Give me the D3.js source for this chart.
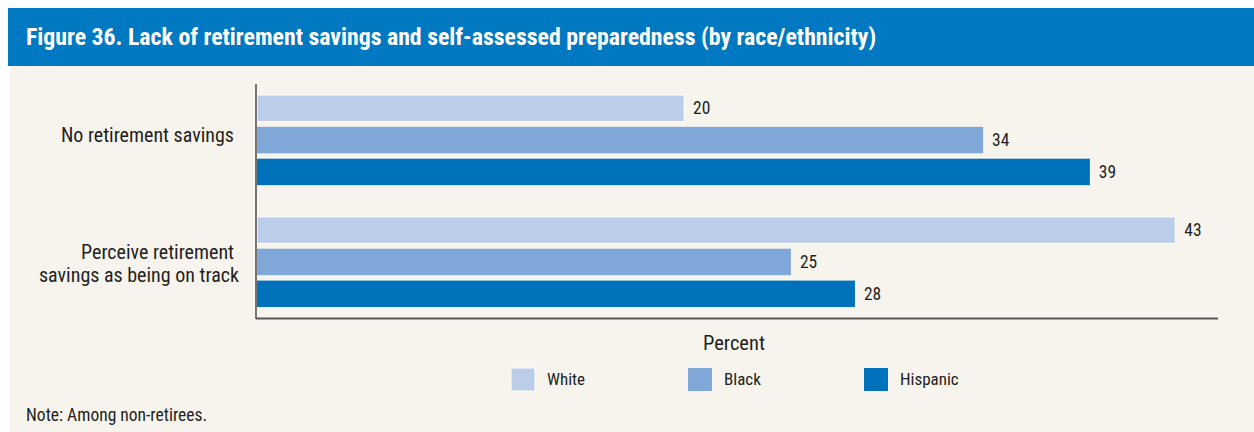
<!DOCTYPE html>
<html>
<head>
<meta charset="utf-8">
<script src="https://cdn.jsdelivr.net/npm/d3@7"></script>
<style>
  body { margin: 0; background: #fff; }
  text { font-family: "Roboto Condensed", sans-serif; }
</style>
</head>
<body>
<div id="chart"></div>
<script>
var categories = ["No retirement savings", "Perceive retirement savings as being on track"];
var categoryLines = [["No retirement savings"], ["Perceive retirement", "savings as being on track"]];
var series = ["White", "Black", "Hispanic"];
var values = {
    White:    [20, 43],
    Black:    [34, 25],
    Hispanic: [39, 28]
};
var colors = ["#bccde9", "#7fa7d8", "#0072bc"];

var width = 1254, height = 432;

var svg = d3.select("#chart").append("svg")
    .attr("width", width)
    .attr("height", height);

// panel + header
svg.append("rect").attr("x", 10).attr("y", 66).attr("width", width - 10).attr("height", height - 66)
    .attr("fill", "#f7f4ee");
svg.append("rect").attr("x", 8).attr("y", 8).attr("width", width - 8).attr("height", 58)
    .attr("fill", "#0079c2");
svg.append("text").attr("x", 26).attr("y", 45)
    .attr("fill", "#fff").attr("font-size", 23.8).attr("font-weight", "bold")
    .text("Figure 36. Lack of retirement savings and self-assessed preparedness (by race/ethnicity)");

var x = d3.scaleLinear().domain([0, 45]).range([257, 1218]);
var y0 = d3.scaleBand().domain(categories).range([84, 318]).paddingInner(0.26).paddingOuter(0.09);
var y1 = d3.scaleBand().domain(series).range([0, y0.bandwidth()]).paddingInner(0.17);
var color = d3.scaleOrdinal().domain(series).range(colors);

var g = svg.selectAll(".grp")
    .data(categories)
    .enter().append("g")
    .attr("class", "grp")
    .attr("transform", function(d) { return "translate(0," + y0(d) + ")"; });

g.selectAll("rect")
    .data(function(d, i) { return series.map(function(s) { return {s: s, v: values[s][i]}; }); })
    .enter().append("rect")
    .attr("x", x(0))
    .attr("y", function(d) { return y1(d.s); })
    .attr("width", function(d) { return x(d.v) - x(0); })
    .attr("height", y1.bandwidth())
    .attr("fill", function(d) { return color(d.s); })
    .attr("stroke", function(d) { return d.s == "White" ? "#fff" : "none"; })
    .attr("stroke-width", 1);

g.selectAll(".val")
    .data(function(d, i) { return series.map(function(s) { return {s: s, v: values[s][i]}; }); })
    .enter().append("text")
    .attr("class", "val")
    .attr("x", function(d) { return x(d.v) + 9; })
    .attr("y", function(d) { return y1(d.s) + y1.bandwidth() / 2; })
    .attr("dy", "0.35em")
    .attr("font-size", 17.5)
    .attr("fill", "#231f20")
    .text(function(d) { return d.v; });

// category labels (second line of the wrapped label sits a bit further right, as in the source)
g.each(function(d, i) {
    var lines = categoryLines[i];
    var cy = y0.bandwidth() / 2 - (lines.length == 1 ? 5 : -2);
    var t = d3.select(this).append("text")
        .attr("text-anchor", "end")
        .attr("font-size", 20)
        .attr("fill", "#231f20");
    lines.forEach(function(l, k) {
        t.append("tspan")
            .attr("x", k == 0 ? 234 : 239)
            .attr("y", cy + (k - (lines.length - 1) / 2) * 23)
            .attr("dy", "0.35em")
            .text(l);
    });
});

// axes
svg.append("line").attr("x1", x(0) - 1).attr("x2", x(0) - 1).attr("y1", 84).attr("y2", 319)
    .attr("stroke", "#231f20").attr("stroke-width", 1.2);
svg.append("line").attr("x1", x(0) - 1).attr("x2", x(45)).attr("y1", 318.5).attr("y2", 318.5)
    .attr("stroke", "#5a5655").attr("stroke-width", 2);

svg.append("text").attr("x", 734).attr("y", 350)
    .attr("text-anchor", "middle").attr("font-size", 20.5).attr("fill", "#231f20")
    .text("Percent");

// legend
var legendX = [511, 688, 864];
var leg = svg.selectAll(".leg")
    .data(series)
    .enter().append("g")
    .attr("class", "leg")
    .attr("transform", function(d, i) { return "translate(" + legendX[i] + ",368)"; });
leg.append("rect")
    .attr("width", 24).attr("height", 23)
    .attr("fill", function(d) { return color(d); })
    .attr("stroke", function(d) { return d == "White" ? "#fff" : "none"; });
leg.append("text")
    .attr("x", 36).attr("y", 11.5).attr("dy", "0.35em")
    .attr("font-size", 17).attr("fill", "#231f20")
    .text(function(d) { return d; });

svg.append("text").attr("x", 26).attr("y", 421)
    .attr("font-size", 17.5).attr("fill", "#231f20")
    .text("Note: Among non-retirees.");
</script>
</body>
</html>
